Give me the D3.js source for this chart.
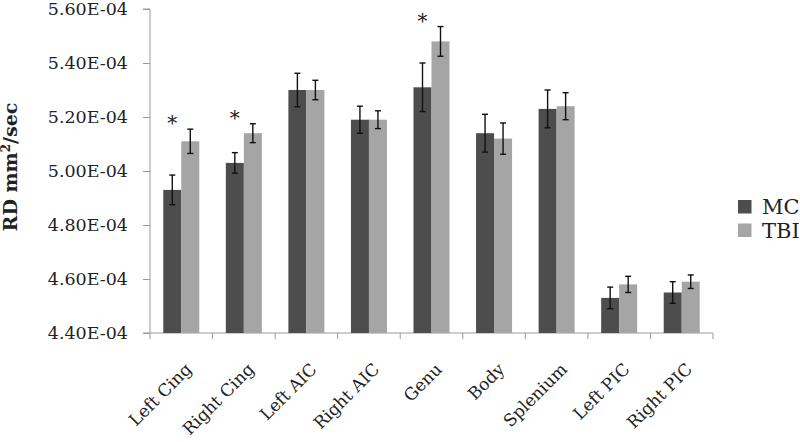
<!DOCTYPE html>
<html><head><meta charset="utf-8">
<script src="https://cdn.jsdelivr.net/npm/d3@7"></script>
<style>body{margin:0;background:#fff}svg{display:block}</style>
</head><body>
<svg id="c" width="800" height="442"></svg>
<script>
const categories = ["Left Cing","Right Cing","Left AIC","Right AIC","Genu","Body","Splenium","Left PIC","Right PIC"];
const seriesNames = ["MC","TBI"];
const mcValues  = [4.93e-4, 5.03e-4, 5.30e-4, 5.19e-4, 5.31e-4, 5.14e-4, 5.23e-4, 4.53e-4, 4.55e-4];
const tbiValues = [5.11e-4, 5.14e-4, 5.30e-4, 5.19e-4, 5.48e-4, 5.12e-4, 5.24e-4, 4.58e-4, 4.59e-4];
const mcErrors  = [0.055e-4, 0.038e-4, 0.062e-4, 0.05e-4, 0.09e-4, 0.07e-4, 0.07e-4, 0.04e-4, 0.04e-4];
const tbiErrors = [0.045e-4, 0.035e-4, 0.036e-4, 0.033e-4, 0.055e-4, 0.058e-4, 0.05e-4, 0.03e-4, 0.025e-4];
const significant = [true, true, false, false, true, false, false, false, false];
const yTicks = [4.40e-4, 4.60e-4, 4.80e-4, 5.00e-4, 5.20e-4, 5.40e-4, 5.60e-4];
const colors = ["#4d4d4d", "#a5a5a5"];

const svg = d3.select("#c");
const m = {left:150, right:713, top:9, bottom:333};
const x = d3.scaleBand().domain(categories).range([m.left, m.right]).paddingInner(0).paddingOuter(0);
const inner = d3.scaleBand().domain(seriesNames).range([0, 36]);
const groupOffset = (x.bandwidth() - 36) / 2;
const y = d3.scaleLinear().domain([4.40e-4, 5.60e-4]).range([m.bottom, m.top]);
const serif = "'DejaVu Serif', serif";
const axisColor = "#9a9a9a";

const fmt = v => v.toExponential(2).toUpperCase().replace(/E([+-])(\d)$/, "E$10$2");

// y axis
const ya = svg.append("g").attr("transform", `translate(${m.left},0)`)
  .call(d3.axisLeft(y).tickValues(yTicks).tickSize(7).tickPadding(15).tickFormat(fmt));
ya.select(".domain").attr("stroke", axisColor).attr("d", `M-7,${m.top}H0V${m.bottom}`);
ya.selectAll(".tick line").attr("stroke", axisColor);
ya.selectAll(".tick text").attr("font-family", serif).attr("font-size", 17.5).attr("fill", "#222");

// x axis
const xa = svg.append("g").attr("transform", `translate(0,${m.bottom})`)
  .call(d3.axisBottom(x).tickSize(0).tickFormat(""));
xa.select(".domain").attr("stroke", axisColor).attr("d", `M${m.left-7},0H${m.right}`);
const bounds = categories.map(c => x(c)).concat([m.right]);
svg.append("g").selectAll("line").data(bounds).join("line")
  .attr("x1", d => d).attr("x2", d => d).attr("y1", m.bottom).attr("y2", m.bottom + 6)
  .attr("stroke", axisColor);

// category labels
svg.append("g").selectAll("text").data(categories).join("text")
  .attr("transform", d => `translate(${x(d) + x.bandwidth()/2 + 3},${m.bottom + 29}) rotate(-45)`)
  .attr("text-anchor", "end").attr("dy", "0.7em")
  .attr("font-family", serif).attr("font-size", 17).attr("fill", "#222")
  .text(d => d);

// bars
const rows = categories.map((c, i) => ({c, i, vals: [
  {s: "MC", v: mcValues[i], e: mcErrors[i], k: 0},
  {s: "TBI", v: tbiValues[i], e: tbiErrors[i], k: 1}]}));
const g = svg.append("g").selectAll("g").data(rows).join("g")
  .attr("transform", d => `translate(${x(d.c) + groupOffset},0)`);
g.selectAll("rect").data(d => d.vals).join("rect")
  .attr("x", d => inner(d.s)).attr("width", inner.bandwidth())
  .attr("y", d => y(d.v)).attr("height", d => y(4.40e-4) - y(d.v))
  .attr("fill", d => colors[d.k]);
// error bars
const eb = g.selectAll("g.err").data(d => d.vals).join("g").attr("class", "err")
  .attr("transform", d => `translate(${inner(d.s) + inner.bandwidth()/2},0)`);
eb.append("line").attr("y1", d => y(d.v + d.e)).attr("y2", d => y(d.v - d.e)).attr("stroke", "#111").attr("stroke-width", 1.4);
eb.append("line").attr("x1", -3).attr("x2", 3).attr("y1", d => y(d.v + d.e)).attr("y2", d => y(d.v + d.e)).attr("stroke", "#111").attr("stroke-width", 1.4);
eb.append("line").attr("x1", -3).attr("x2", 3).attr("y1", d => y(d.v - d.e)).attr("y2", d => y(d.v - d.e)).attr("stroke", "#111").attr("stroke-width", 1.4);

// significance asterisks
g.filter(d => significant[d.i]).append("text")
  .attr("x", inner("MC") + inner.bandwidth()/2)
  .attr("y", d => y(Math.max(mcValues[d.i] + mcErrors[d.i], tbiValues[d.i] + tbiErrors[d.i])) + 1)
  .attr("text-anchor", "middle").attr("font-family", serif).attr("font-size", 20).attr("fill", "#222")
  .text("*");

// y label
svg.append("text").attr("transform", "translate(17,167) rotate(-90)")
  .attr("text-anchor", "middle").attr("font-family", serif).attr("font-weight", "bold")
  .attr("font-size", 19).attr("fill", "#222")
  .html('RD mm<tspan dy="-7" font-size="12">2</tspan><tspan dy="7">/sec</tspan>');

// legend
const lg = svg.append("g").selectAll("g").data(seriesNames).join("g")
  .attr("transform", (d, i) => `translate(738,${200 + i*23.5})`);
lg.append("rect").attr("width", 13.5).attr("height", 13.5).attr("fill", (d, i) => colors[i]);
lg.append("text").attr("x", 24).attr("y", 14).attr("font-family", serif).attr("font-size", 21).attr("fill", "#222").text(d => d);
</script>
</body></html>
